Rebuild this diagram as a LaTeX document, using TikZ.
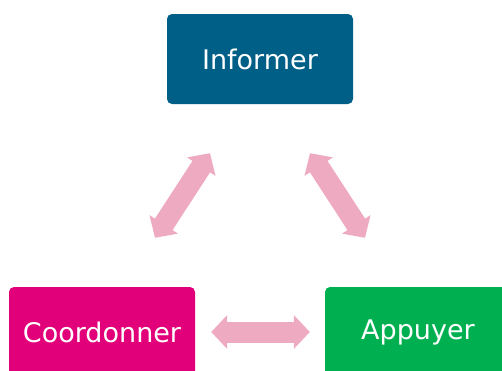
\documentclass[tikz,border=0pt]{standalone}
\usepackage{fontspec}
\setmainfont{DejaVu Sans}
\usetikzlibrary{arrows.meta, positioning}
\definecolor{informblue}{RGB}{0, 95, 135}
\definecolor{coordmagenta}{RGB}{226, 0, 122}
\definecolor{supportgreen}{RGB}{0, 176, 80}
\definecolor{linkpink}{RGB}{238, 170, 192}

\begin{document}
\begin{tikzpicture}[x=1pt, y=-1pt,
    box/.style={rounded corners=5pt, minimum width=186pt, minimum height=90pt, text=white, font=\fontsize{27}{31}\selectfont},
    link/.style={linkpink, line width=21pt, {Triangle[width=33pt,length=16pt]}-{Triangle[width=33pt,length=16pt]}}]
    \clip (0,0) rectangle (502,370);

    % the three roles
    \node[box, fill=informblue] (inf) at (260,59) {Informer};
    \node[box, fill=coordmagenta] (coord) at (102,332) {Coordonner};
    \node[box, fill=supportgreen] (supp) at (418,332) {Appuyer};

    % ends of the slanted links
    \coordinate (infL) at ([shift={(-50,49)}]inf.south);
    \coordinate (infR) at ([shift={(50,49)}]inf.south);
    \coordinate (coordT) at ([shift={(53,-49)}]coord.north);
    \coordinate (suppT) at ([shift={(-53,-49)}]supp.north);

    \draw[link] (infL) -- (coordT);
    \draw[link] (infR) -- (suppT);
    \draw[link, shorten <=16pt, shorten >=15pt] (coord) -- (supp);
\end{tikzpicture}
\end{document}
